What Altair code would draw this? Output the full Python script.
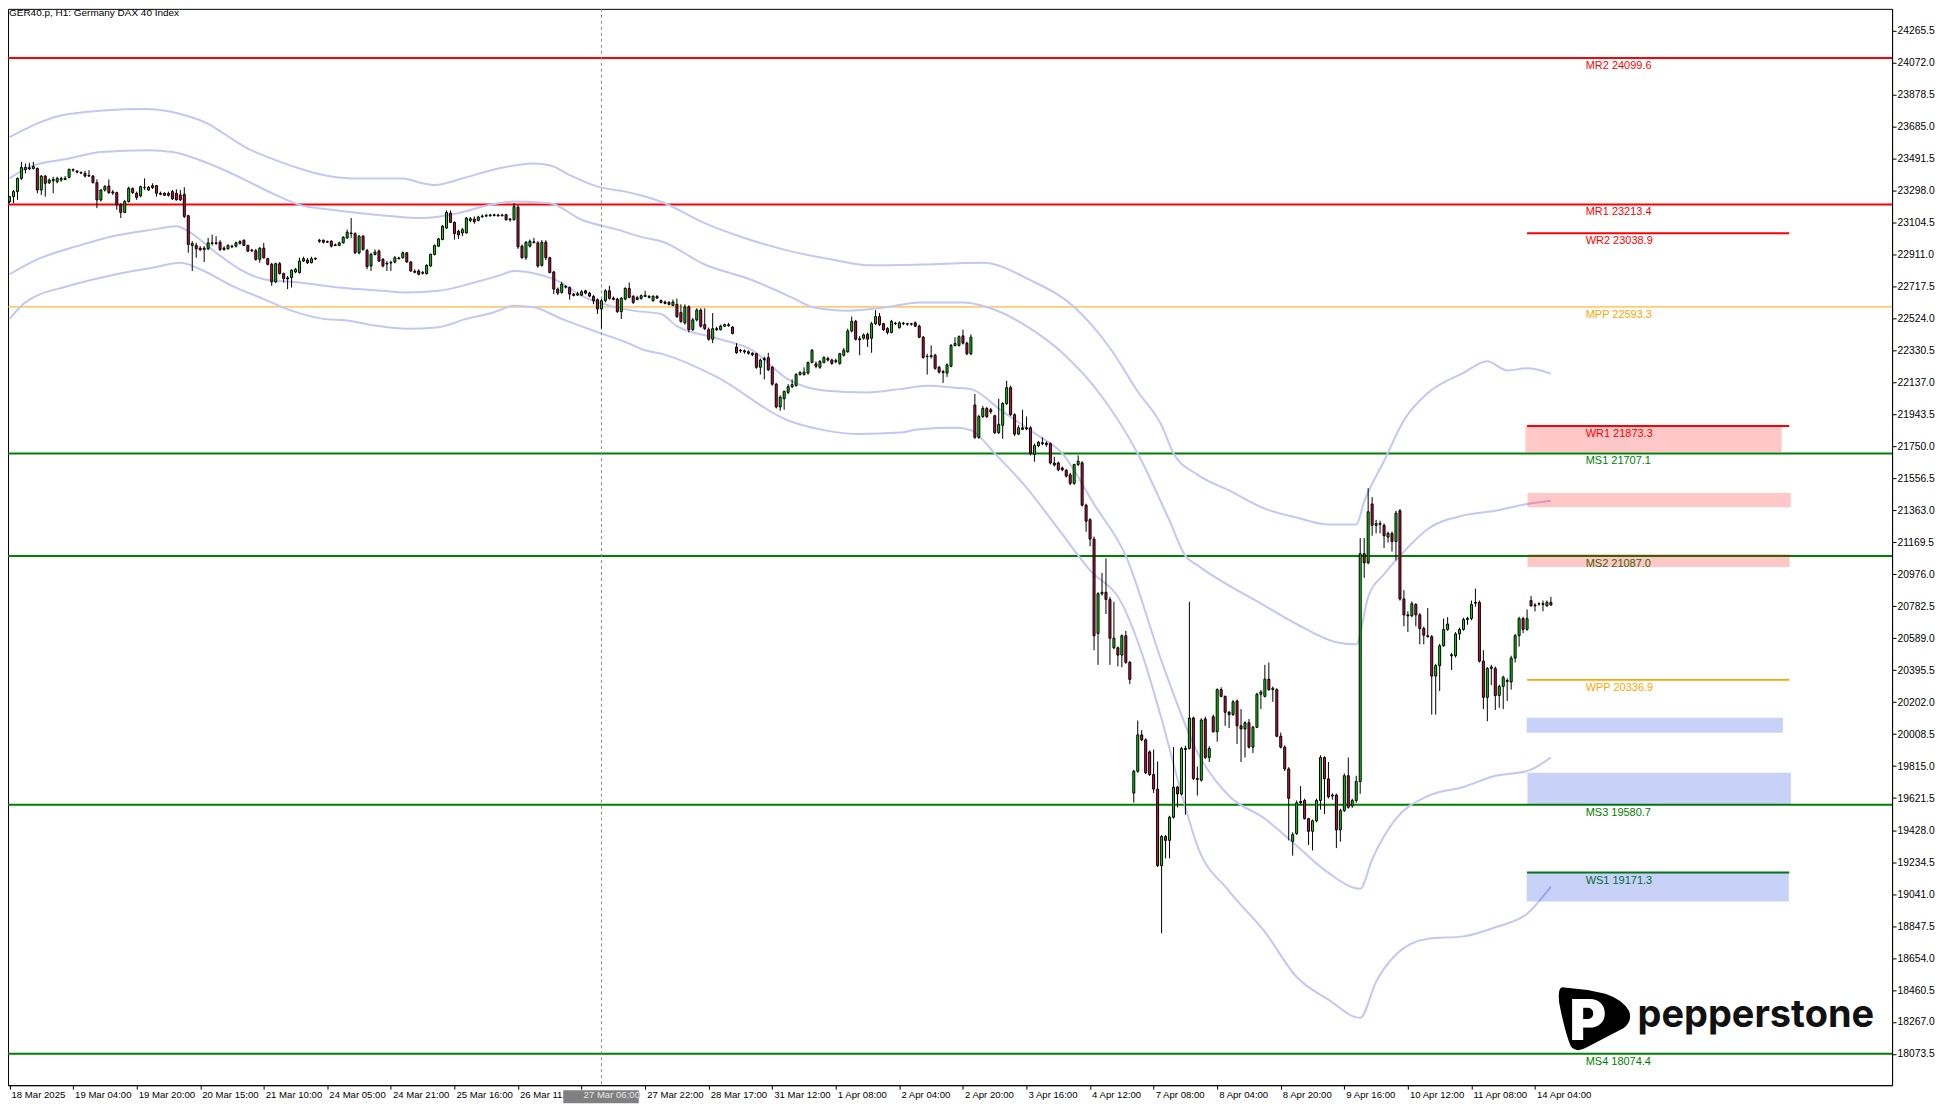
import altair as alt
import pandas as pd

TITLE = "GER40.p, H1:  Germany DAX 40 Index"

TIME_TICK_BARS = [0, 16, 32, 48, 64, 80, 96, 112, 128, 144, 160, 176, 192, 208, 224,
                  240, 256, 272, 288, 304, 320, 336, 352, 368, 384]
TIME_LABELS = ["18 Mar 2025", "19 Mar 04:00", "19 Mar 20:00", "20 Mar 15:00", "21 Mar 10:00",
               "24 Mar 05:00", "24 Mar 21:00", "25 Mar 16:00", "26 Mar 11:00", "27 Mar 06:00",
               "27 Mar 22:00", "28 Mar 17:00", "31 Mar 12:00", "1 Apr 08:00", "2 Apr 04:00",
               "2 Apr 20:00", "3 Apr 16:00", "4 Apr 12:00", "7 Apr 08:00", "8 Apr 04:00",
               "8 Apr 20:00", "9 Apr 16:00", "10 Apr 12:00", "11 Apr 08:00", "14 Apr 04:00"]

PRICE_TICKS = [18073.5, 18267.0, 18460.5, 18654.0, 18847.5, 19041.0, 19234.5, 19428.0,
               19621.5, 19815.0, 20008.5, 20202.0, 20395.5, 20589.0, 20782.5, 20976.0,
               21169.5, 21363.0, 21556.5, 21750.0, 21943.5, 22137.0, 22330.5, 22524.0,
               22717.5, 22911.0, 23104.5, 23298.0, 23491.5, 23685.0, 23878.5, 24072.0, 24265.5]

OPEN = [
    23231, 23261, 23291, 23371, 23425, 23429, 23431, 23431, 23301, 23385,
    23345, 23357, 23351, 23361, 23365, 23377, 23425, 23415, 23407, 23401,
    23389, 23385, 23345, 23241, 23301, 23325, 23289, 23285, 23211, 23165,
    23231, 23309, 23281, 23265, 23315, 23301, 23327, 23327, 23281, 23281,
    23279, 23291, 23281, 23271, 23275, 23145, 22965, 22965, 22949, 22941,
    22945, 22977, 22981, 22985, 22949, 22945, 22961, 22961, 22977, 22997,
    22965, 22937, 22933, 22881, 22949, 22885, 22851, 22745, 22855, 22795,
    22769, 22771, 22805, 22801, 22871, 22877, 22861, 22887, 22991, 22997,
    22989, 22991, 22969, 22965, 22981, 23011, 23037, 23037, 22921, 23021,
    22935, 22841, 22911, 22931, 22881, 22857, 22859, 22865, 22889, 22891,
    22921, 22865, 22809, 22811, 22801, 22795, 22841, 22911, 22961, 23001,
    23071, 23161, 23105, 23051, 23041, 23041, 23117, 23125, 23117, 23139,
    23143, 23145, 23147, 23149, 23145, 23151, 23121, 23121, 23197, 22961,
    22891, 22961, 22987, 22981, 22845, 22985, 22891, 22805, 22701, 22681,
    22717, 22711, 22671, 22665, 22665, 22691, 22677, 22657, 22637, 22581,
    22631, 22691, 22647, 22641, 22565, 22641, 22705, 22657, 22649, 22645,
    22657, 22657, 22631, 22657, 22632, 22623, 22620, 22603, 22609, 22560,
    22497, 22594, 22456, 22515, 22574, 22486, 22456, 22398, 22462, 22456,
    22477, 22486, 22471, 22351, 22331, 22328, 22322, 22313, 22310, 22228,
    22275, 22287, 22228, 22126, 21988, 22038, 22076, 22111, 22117, 22184,
    22184, 22193, 22257, 22249, 22228, 22257, 22281, 22272, 22263, 22252,
    22301, 22322, 22448, 22506, 22401, 22404, 22427, 22404, 22492, 22535,
    22492, 22462, 22439, 22492, 22468, 22495, 22492, 22489, 22497, 22477,
    22410, 22295, 22293, 22301, 22228, 22202, 22193, 22234, 22360, 22360,
    22418, 22374, 22310, 22000, 21804, 21930, 21979, 21971, 21935, 21833,
    21877, 22009, 22105, 21941, 21824, 21862, 21862, 21862, 21701, 21754,
    21772, 21769, 21766, 21649, 21649, 21619, 21605, 21578, 21526, 21640,
    21650, 21394, 21306, 21189, 20618, 20858, 20867, 20823, 20531, 20531,
    20487, 20604, 20443, 19652, 19784, 20004, 19974, 19901, 19764, 19676,
    19213, 19389, 19366, 19506, 19688, 19647, 19922, 19922, 20106, 19740,
    19730, 20100, 19867, 20114, 20023, 20278, 20237, 20141, 20127, 20209,
    20059, 20040, 20078, 19930, 20050, 20250, 20237, 20341, 20278, 20278,
    19996, 19930, 19798, 19360, 19407, 19593, 19607, 19497, 19421, 19484,
    19607, 19867, 19738, 19634, 19640, 19429, 19546, 19757, 19574, 19607,
    19722, 21100, 21045, 21401, 21272, 21278, 21272, 21201, 21223, 21174,
    21360, 20826, 20730, 20724, 20793, 20730, 20648, 20604, 20598, 20360,
    20423, 20543, 20642, 20489, 20483, 20615, 20642, 20702, 20708, 20801,
    20806, 20450, 20231, 20406, 20406, 20242, 20297, 20333, 20324, 20469,
    20604, 20708, 20642, 20817, 20790, 20796, 20798, 20785, 20806,
]
HIGH = [
    23265, 23301, 23377, 23471, 23461, 23465, 23471, 23437, 23391, 23391,
    23371, 23381, 23381, 23381, 23385, 23431, 23431, 23421, 23413, 23417,
    23421, 23391, 23365, 23305, 23331, 23365, 23301, 23291, 23221, 23241,
    23321, 23317, 23291, 23327, 23371, 23325, 23341, 23331, 23291, 23287,
    23291, 23301, 23305, 23301, 23317, 23151, 22991, 22981, 22961, 22961,
    23011, 23031, 23021, 22997, 22961, 22973, 22969, 22989, 22997, 23001,
    22971, 22945, 22945, 22955, 22981, 22891, 22861, 22861, 22865, 22801,
    22781, 22821, 22829, 22891, 22897, 22889, 22897, 22893, 23005, 23001,
    22995, 22997, 22977, 22989, 23021, 23061, 23131, 23045, 23029, 23029,
    22945, 22921, 22941, 22941, 22889, 22871, 22873, 22901, 22897, 22929,
    22925, 22871, 22821, 22821, 22811, 22851, 22917, 22971, 23011, 23089,
    23177, 23177, 23111, 23061, 23071, 23137, 23137, 23141, 23145, 23153,
    23157, 23157, 23157, 23157, 23157, 23157, 23131, 23221, 23211, 22971,
    22991, 23001, 23011, 22991, 22997, 22997, 22897, 22811, 22711, 22745,
    22725, 22717, 22677, 22685, 22695, 22697, 22685, 22665, 22645, 22641,
    22701, 22721, 22657, 22649, 22653, 22713, 22741, 22665, 22661, 22669,
    22691, 22665, 22665, 22665, 22638, 22632, 22629, 22638, 22644, 22609,
    22609, 22603, 22527, 22585, 22585, 22585, 22468, 22556, 22474, 22486,
    22492, 22497, 22477, 22374, 22339, 22336, 22331, 22319, 22316, 22281,
    22293, 22316, 22235, 22134, 22058, 22088, 22126, 22155, 22193, 22205,
    22228, 22263, 22339, 22263, 22272, 22295, 22293, 22281, 22281, 22316,
    22345, 22462, 22535, 22515, 22418, 22433, 22439, 22503, 22574, 22556,
    22497, 22471, 22515, 22503, 22506, 22503, 22497, 22497, 22506, 22486,
    22418, 22310, 22360, 22310, 22237, 22213, 22252, 22369, 22410, 22421,
    22456, 22383, 22427, 22067, 21941, 21994, 21988, 21982, 21941, 22038,
    22017, 22146, 22117, 21950, 21877, 21971, 21930, 21871, 21766, 21783,
    21804, 21780, 21774, 21687, 21657, 21628, 21613, 21590, 21645, 21695,
    21660, 21403, 21315, 21204, 20867, 20984, 21072, 20838, 20809, 20539,
    20612, 20633, 20451, 19793, 20091, 20033, 19983, 19910, 19916, 19843,
    19398, 19398, 19515, 19930, 19696, 19930, 19939, 20809, 20115, 19813,
    20105, 20114, 19935, 20127, 20286, 20292, 20242, 20149, 20215, 20218,
    20160, 20086, 20100, 20059, 20259, 20275, 20428, 20442, 20297, 20286,
    20018, 19941, 19809, 19415, 19607, 19694, 19618, 19503, 19492, 19618,
    19881, 19875, 19840, 19651, 19648, 19557, 19771, 19867, 19618, 19757,
    21195, 21195, 21497, 21442, 21305, 21300, 21283, 21234, 21234, 21360,
    21371, 20880, 20752, 20812, 20801, 20741, 20659, 20771, 20609, 20434,
    20555, 20708, 20716, 20500, 20626, 20653, 20713, 20719, 20817, 20889,
    20817, 20516, 20415, 20428, 20418, 20308, 20363, 20346, 20483, 20615,
    20719, 20719, 20763, 20845, 20801, 20806, 20817, 20817, 20839,
]
LOW = [
    23221, 23221, 23241, 23361, 23401, 23421, 23425, 23281, 23271, 23261,
    23337, 23281, 23341, 23351, 23361, 23371, 23411, 23401, 23397, 23377,
    23381, 23341, 23191, 23231, 23291, 23277, 23271, 23181, 23131, 23161,
    23225, 23277, 23241, 23257, 23301, 23295, 23307, 23261, 23269, 23265,
    23261, 23241, 23237, 23235, 23131, 22921, 22811, 22891, 22931, 22865,
    22937, 22965, 22969, 22931, 22933, 22941, 22949, 22953, 22971, 22961,
    22925, 22927, 22873, 22861, 22885, 22845, 22721, 22737, 22789, 22741,
    22701, 22711, 22797, 22795, 22865, 22853, 22857, 22877, 22981, 22977,
    22981, 22953, 22961, 22961, 22977, 23005, 23011, 22913, 22911, 22933,
    22821, 22811, 22905, 22865, 22833, 22811, 22811, 22857, 22881, 22885,
    22861, 22805, 22797, 22785, 22789, 22789, 22837, 22905, 22957, 22997,
    23065, 23101, 23001, 23005, 23021, 23037, 23105, 23097, 23111, 23133,
    23137, 23139, 23141, 23139, 23141, 23115, 23109, 23117, 22945, 22885,
    22877, 22953, 22977, 22831, 22837, 22877, 22797, 22671, 22665, 22673,
    22705, 22637, 22657, 22661, 22659, 22669, 22653, 22611, 22551, 22461,
    22621, 22637, 22633, 22557, 22521, 22633, 22645, 22611, 22633, 22637,
    22653, 22645, 22625, 22641, 22615, 22609, 22603, 22597, 22527, 22497,
    22486, 22439, 22448, 22506, 22468, 22454, 22389, 22374, 22448, 22451,
    22471, 22474, 22427, 22310, 22316, 22310, 22304, 22295, 22219, 22184,
    22155, 22205, 22117, 21979, 21965, 21971, 22067, 22102, 22111, 22178,
    22178, 22184, 22252, 22222, 22219, 22252, 22263, 22243, 22252, 22243,
    22293, 22316, 22439, 22389, 22301, 22395, 22351, 22316, 22483, 22477,
    22448, 22427, 22433, 22483, 22462, 22483, 22480, 22480, 22471, 22404,
    22281, 22184, 22281, 22213, 22190, 22134, 22170, 22228, 22354, 22354,
    22366, 22301, 22301, 21795, 21795, 21921, 21921, 21947, 21824, 21824,
    21795, 22000, 21935, 21812, 21818, 21848, 21848, 21695, 21657, 21745,
    21757, 21748, 21640, 21628, 21599, 21599, 21561, 21514, 21517, 21630,
    21385, 21233, 21145, 20516, 20428, 20847, 20735, 20428, 20522, 20419,
    20413, 20434, 20311, 19594, 19775, 19966, 19767, 19755, 19652, 19205,
    18804, 19257, 19257, 19497, 19565, 19638, 19521, 19916, 19731, 19637,
    19722, 19859, 19840, 20018, 19963, 20231, 20059, 20045, 20119, 19949,
    19840, 19867, 19922, 19894, 20045, 20160, 20231, 20270, 20204, 19990,
    19922, 19785, 19366, 19273, 19399, 19579, 19492, 19338, 19305, 19475,
    19552, 19525, 19620, 19612, 19319, 19358, 19538, 19558, 19563, 19593,
    19648, 20954, 21037, 21209, 21223, 21223, 21135, 21168, 21113, 21059,
    20817, 20661, 20626, 20716, 20661, 20552, 20552, 20593, 20127, 20127,
    20270, 20538, 20634, 20396, 20472, 20579, 20634, 20670, 20697, 20779,
    20442, 20160, 20086, 20305, 20155, 20168, 20160, 20209, 20278, 20442,
    20538, 20620, 20634, 20779, 20751, 20785, 20752, 20779, 20785,
]
CLOSE = [
    23261, 23291, 23371, 23437, 23437, 23435, 23443, 23301, 23385, 23341,
    23361, 23365, 23371, 23371, 23371, 23425, 23421, 23409, 23403, 23385,
    23385, 23345, 23241, 23301, 23321, 23285, 23283, 23211, 23165, 23231,
    23311, 23285, 23255, 23321, 23317, 23317, 23315, 23281, 23275, 23269,
    23269, 23247, 23241, 23241, 23141, 22971, 22977, 22945, 22939, 22949,
    22981, 22981, 22977, 22941, 22941, 22965, 22957, 22981, 22989, 22965,
    22931, 22933, 22881, 22949, 22891, 22851, 22745, 22855, 22795, 22765,
    22763, 22815, 22821, 22871, 22885, 22861, 22885, 22883, 22997, 22985,
    22985, 22961, 22965, 22981, 23015, 23045, 23041, 22921, 23021, 22941,
    22837, 22911, 22925, 22871, 22841, 22853, 22863, 22891, 22885, 22921,
    22865, 22811, 22803, 22791, 22797, 22845, 22911, 22965, 23005, 23081,
    23165, 23105, 23037, 23029, 23061, 23131, 23127, 23109, 23137, 23143,
    23147, 23149, 23151, 23145, 23149, 23121, 23125, 23201, 22957, 22891,
    22985, 22991, 22983, 22841, 22985, 22891, 22801, 22701, 22677, 22731,
    22713, 22671, 22663, 22673, 22685, 22677, 22659, 22631, 22581, 22631,
    22691, 22645, 22639, 22565, 22645, 22705, 22651, 22621, 22639, 22661,
    22663, 22651, 22657, 22647, 22620, 22615, 22609, 22623, 22535, 22506,
    22594, 22456, 22515, 22574, 22477, 22462, 22398, 22462, 22456, 22477,
    22486, 22480, 22433, 22316, 22328, 22322, 22313, 22304, 22228, 22272,
    22281, 22213, 22126, 21988, 22047, 22082, 22111, 22123, 22184, 22196,
    22199, 22257, 22331, 22234, 22263, 22287, 22272, 22252, 22269, 22310,
    22331, 22448, 22506, 22398, 22395, 22424, 22398, 22492, 22535, 22486,
    22456, 22439, 22506, 22495, 22497, 22492, 22489, 22492, 22477, 22410,
    22287, 22293, 22298, 22222, 22199, 22196, 22243, 22360, 22372, 22413,
    22374, 22310, 22410, 21804, 21930, 21979, 21930, 21959, 21833, 21883,
    22009, 22105, 21941, 21824, 21862, 21853, 21856, 21707, 21754, 21774,
    21766, 21760, 21649, 21637, 21608, 21608, 21570, 21526, 21640, 21660,
    21394, 21297, 21189, 20604, 20858, 20867, 20823, 20589, 20589, 20487,
    20604, 20443, 20340, 19784, 20004, 19974, 19775, 19764, 19676, 19213,
    19389, 19366, 19506, 19688, 19647, 19922, 19916, 20106, 19740, 19735,
    20094, 19867, 19922, 20023, 20278, 20237, 20141, 20127, 20204, 20059,
    20040, 20078, 19930, 20050, 20250, 20264, 20341, 20278, 20286, 19996,
    19930, 19798, 19620, 19401, 19593, 19601, 19497, 19421, 19484, 19607,
    19867, 19738, 19629, 19640, 19429, 19546, 19757, 19566, 19607, 19722,
    21100, 21045, 21354, 21272, 21283, 21283, 21209, 21223, 21174, 21346,
    20826, 20730, 20724, 20798, 20730, 20648, 20607, 20598, 20360, 20423,
    20543, 20642, 20675, 20483, 20615, 20642, 20702, 20708, 20793, 20806,
    20450, 20231, 20406, 20415, 20242, 20297, 20352, 20327, 20469, 20604,
    20708, 20642, 20708, 20785, 20785, 20798, 20793, 20806, 20790,
]

# envelope / band lines at sample bars
BAND_A_BARS = [0, 15, 34, 43, 50, 54, 60, 66, 73, 79, 86, 99, 104, 107, 114, 123, 132, 136, 141,
               148, 155, 160, 164, 175, 185, 195, 207, 217, 230, 245, 257, 268, 277, 284, 290,
               293, 299, 307, 316, 324, 332, 339, 341, 346, 351, 357, 366, 372, 377, 382, 388]
BAND_A_VALS = [23621, 23761, 23791, 23761, 23701, 23641, 23551, 23491, 23431, 23391, 23371,
               23371, 23341, 23331, 23371, 23431, 23461, 23451, 23391, 23321, 23291, 23261,
               23230, 23100, 23010, 22940, 22880, 22845, 22850, 22860, 22755, 22593, 22345,
               22082, 21877, 21707, 21579, 21483, 21373, 21319, 21277, 21277, 21415, 21661,
               21908, 22072, 22195, 22264, 22209, 22222, 22190]
BAND_B_BARS = [0, 5, 15, 23, 35, 41, 48, 55, 61, 67, 73, 81, 92, 104, 113, 121, 127, 136, 144,
               153, 160, 164, 175, 187, 198, 202, 211, 221, 229, 240, 246, 257, 265, 275, 284,
               292, 296, 299, 316, 324, 334, 339, 342, 346, 351, 357, 366, 374, 382, 388]
BAND_B_VALS = [23371, 23441, 23491, 23531, 23541, 23531, 23481, 23411, 23341, 23271, 23211,
               23181, 23151, 23131, 23161, 23211, 23231, 23221, 23121, 23061, 23011, 22991,
               22850, 22755, 22638, 22593, 22570, 22593, 22620, 22620, 22593, 22462, 22316,
               22050, 21707, 21300, 21087, 21031, 20785, 20675, 20565, 20552, 20839, 20976,
               21113, 21250, 21332, 21360, 21401, 21420]
BAND_C_BARS = [0, 7, 17, 26, 36, 42, 45, 52, 58, 64, 73, 83, 94, 100, 108, 117, 123, 127, 133,
               138, 144, 151, 157, 164, 168, 178, 187, 196, 205, 216, 224, 231, 238, 242, 250,
               258, 265, 273, 281, 290, 299, 307, 316, 324, 332, 340, 343, 349, 357, 366, 374,
               382, 388]
BAND_C_VALS = [22791, 22881, 22961, 23021, 23061, 23081, 23051, 22921, 22821, 22761, 22741,
               22711, 22691, 22681, 22691, 22741, 22781, 22811, 22791, 22751, 22661, 22601,
               22571, 22551, 22477, 22404, 22331, 22155, 22088, 22076, 22096, 22117, 22105,
               22096, 21960, 21830, 21707, 21400, 21087, 20450, 19900, 19634, 19497, 19333,
               19169, 19073, 19251, 19497, 19634, 19689, 19757, 19785, 19867]
BAND_D_BARS = [0, 4, 15, 25, 36, 43, 48, 56, 64, 71, 79, 85, 92, 100, 108, 115, 122, 127, 132,
               139, 148, 155, 160, 164, 178, 196, 205, 214, 224, 229, 238, 242, 248, 256, 264,
               272, 280, 285, 290, 295, 299, 307, 316, 324, 332, 340, 344, 349, 357, 366, 374,
               382, 388]
BAND_D_VALS = [22521, 22621, 22721, 22781, 22831, 22861, 22821, 22721, 22641, 22571, 22521,
               22511, 22481, 22461, 22471, 22521, 22561, 22601, 22591, 22521, 22441, 22381,
               22331, 22311, 22170, 21906, 21848, 21824, 21833, 21853, 21862, 21848, 21707,
               21500, 21250, 21000, 20800, 20500, 20100, 19650, 19333, 19059, 18812, 18539,
               18402, 18292, 18511, 18675, 18771, 18785, 18840, 18922, 19086]

# pivot levels
MONTHLY_NAMES = ["MR2", "MR1", "MPP", "MS1", "MS2", "MS3", "MS4"]
MONTHLY_VALUES = [24099.6, 23213.4, 22593.3, 21707.1, 21087.0, 19580.7, 18074.4]
WEEKLY_NAMES = ["WR2", "WR1", "WPP", "WS1"]
WEEKLY_VALUES = [23038.9, 21873.3, 20336.9, 19171.3]
WEEKLY_FROM_BAR = 382
WEEKLY_TO_BAR = 448
LABEL_BAR = 396

ZONE_KIND = ["supply", "supply", "supply", "demand", "demand", "demand"]
ZONE_FROM = [381.6, 382.1, 382.1, 381.9, 382.1, 381.9]
ZONE_TO = [446.1, 448.4, 448.1, 446.4, 448.4, 447.9]
ZONE_TOP = [21873, 21467, 21098, 20108, 19775, 19171]
ZONE_BOTTOM = [21714, 21382, 21020, 20017, 19582, 18996]

CROSSHAIR_BAR = 149
CROSSHAIR_LABEL = "27 Mar 06:00"
CROSSHAIR_FROM = 139.4
CROSSHAIR_TO = 158.4

RED, GREEN, ORANGE = "#ff0000", "#008000", "#ffa500"
BULL, BEAR = "#00dd00", "#d01040"
BAND_COLOR = "#c3c7f4"
FONT = "Liberation Sans"


def level_color(name):
    if "PP" in name:
        return ORANGE
    return RED if "R" in name[1:] else GREEN


X_SCALE = alt.Scale(domain=[0.875, 472.625], nice=False, zero=False)
Y_SCALE = alt.Scale(domain=[17884.7, 24396.8], nice=False, zero=False)
label_array = "[" + ",".join("'" + s + "'" for s in TIME_LABELS) + "]"
X_AXIS = alt.Axis(values=TIME_TICK_BARS, labelExpr=label_array + "[round(datum.value/16)]",
                  orient="bottom", tickSize=4, labelAlign="left", labelBaseline="top",
                  labelPadding=0, labelOffset=1.5, labelFlush=False, labelOverlap=False,
                  labelBound=False, zindex=0, title=None, labelFontSize=9.6)
Y_AXIS = alt.Axis(values=PRICE_TICKS, format=".1f", orient="right", tickSize=4,
                  labelAlign="left", labelBaseline="middle", labelPadding=1,
                  labelOverlap=False, labelFlush=False, title=None, labelFontSize=10.3)


def xenc(field):
    return alt.X(field, type="quantitative", scale=X_SCALE, axis=X_AXIS, title=None)


def yenc(field):
    return alt.Y(field, type="quantitative", scale=Y_SCALE, axis=Y_AXIS, title=None)


candles = pd.DataFrame({"bar": list(range(len(OPEN))), "open": OPEN, "high": HIGH,
                        "low": LOW, "close": CLOSE})

monthly = pd.DataFrame({"name": MONTHLY_NAMES, "price": MONTHLY_VALUES})
monthly["col"] = [level_color(n) for n in MONTHLY_NAMES]
monthly_thick = monthly[monthly["name"] != "MPP"]
monthly_thin = monthly[monthly["name"] == "MPP"]

weekly = pd.DataFrame({"name": WEEKLY_NAMES, "price": WEEKLY_VALUES,
                       "x0": WEEKLY_FROM_BAR, "x1": WEEKLY_TO_BAR})
weekly["col"] = [level_color(n) for n in WEEKLY_NAMES]

labels = pd.DataFrame({"name": MONTHLY_NAMES + WEEKLY_NAMES,
                       "price": MONTHLY_VALUES + WEEKLY_VALUES})
labels["text"] = [f"{n} {v:.1f}" for n, v in zip(labels["name"], labels["price"])]
labels["col"] = [level_color(n) for n in labels["name"]]
labels["bar"] = LABEL_BAR

zones = pd.DataFrame({"kind": ZONE_KIND, "x0": ZONE_FROM, "x1": ZONE_TO,
                      "top": ZONE_TOP, "bot": ZONE_BOTTOM})
zones["col"] = ["#ff0000" if k == "supply" else "#0028e0" for k in ZONE_KIND]

band_rows = []
for name, bars, vals in [("A", BAND_A_BARS, BAND_A_VALS), ("B", BAND_B_BARS, BAND_B_VALS),
                         ("C", BAND_C_BARS, BAND_C_VALS), ("D", BAND_D_BARS, BAND_D_VALS)]:
    for b, v in zip(bars, vals):
        band_rows.append({"band": name, "bar": b, "price": v})
bands = pd.DataFrame(band_rows)

layers = []

layers.append(alt.Chart(monthly_thick).mark_rule(strokeWidth=2).encode(
    y=yenc("price"), color=alt.Color("col:N", scale=None)))
layers.append(alt.Chart(monthly_thin).mark_rule(strokeWidth=1).encode(
    y=yenc("price"), color=alt.Color("col:N", scale=None)))

layers.append(alt.Chart(bands).mark_line(strokeWidth=2, color=BAND_COLOR, interpolate="monotone",
                                         clip=True).encode(
    x=xenc("bar"), y=yenc("price"), detail="band:N", order="bar:Q"))

layers.append(alt.Chart(pd.DataFrame({"bar": [CROSSHAIR_BAR]})).mark_rule(
    color="#8a8a8a", strokeWidth=1, strokeDash=[3, 3]).encode(x=xenc("bar")))

layers.append(alt.Chart(weekly).mark_rule(strokeWidth=2).encode(
    x=xenc("x0"), x2="x1", y=yenc("price"), color=alt.Color("col:N", scale=None)))

layers.append(alt.Chart(labels).mark_text(align="left", baseline="alphabetic", dy=11, dx=3,
                                          font=FONT, fontSize=11).encode(
    x=xenc("bar"), y=yenc("price"), text="text:N", color=alt.Color("col:N", scale=None)))

layers.append(alt.Chart(zones).mark_rect(opacity=0.215).encode(
    x=xenc("x0"), x2="x1", y=yenc("top"), y2="bot", color=alt.Color("col:N", scale=None)))

layers.append(alt.Chart(candles).mark_rule(color="black", strokeWidth=1, clip=True).encode(
    x=xenc("bar"), y=yenc("low"), y2="high"))

layers.append(alt.Chart(candles).mark_bar(size=2, stroke="black", strokeWidth=1, clip=True).encode(
    x=xenc("bar"), y=yenc("open"), y2="close",
    color=alt.condition("datum.close >= datum.open", alt.value(BULL), alt.value(BEAR))))

# crosshair time label under the axis
layers.append(alt.Chart(pd.DataFrame({"x0": [CROSSHAIR_FROM], "x1": [CROSSHAIR_TO]})).mark_rect(
    color="#808080").encode(x=xenc("x0"), x2="x1", y=alt.value(1083), y2=alt.value(1096)))
layers.append(alt.Chart(pd.DataFrame({"bar": [144], "t": [CROSSHAIR_LABEL]})).mark_text(
    align="left", baseline="top", dx=2, font=FONT, fontSize=9.6, color="#e8e8e8").encode(
    x=xenc("bar"), y=alt.value(1083), text="t:N"))

# title
layers.append(alt.Chart(pd.DataFrame({"t": [TITLE]})).mark_text(
    align="left", baseline="alphabetic", font=FONT, fontSize=10, color="black").encode(
    x=alt.value(1), y=alt.value(7), text="t:N"))

# pepperstone logo
SHIELD = ("M -0.9 -0.86 Q -0.3 -0.82 0.3 -0.68 Q 0.78 -0.52 0.96 -0.2 Q 1.06 0.08 0.8 0.28 "
          "L -0.2 0.8 Q -0.5 0.98 -0.66 0.78 Q -0.82 0.4 -0.98 -0.42 Q -1.03 -0.84 -0.9 -0.86 Z")
layers.append(alt.Chart(pd.DataFrame({"k": [1]})).mark_point(
    shape=SHIELD, filled=True, color="black", size=5200, opacity=1).encode(
    x=alt.value(1589), y=alt.value(1011)))
layers.append(alt.Chart(pd.DataFrame({"t": ["P"]})).mark_text(
    align="left", baseline="alphabetic", font="Inter", fontSize=56, fontWeight=900,
    color="white").encode(x=alt.value(1564), y=alt.value(1033), text="t:N"))
layers.append(alt.Chart(pd.DataFrame({"t": ["pepperstone"]})).mark_text(
    align="left", baseline="alphabetic", font="Inter", fontSize=38, fontWeight=700,
    color="#111111").encode(x=alt.value(1632), y=alt.value(1020), text="t:N"))

chart = alt.layer(*layers).properties(
    width=1887, height=1078,
    autosize=alt.AutoSizeParams(type="none"),
    padding={"left": 0, "top": 0, "right": 50, "bottom": 18},
    background="white",
).configure_view(stroke="black", strokeWidth=1).configure_axis(
    grid=False, domainColor="black", tickColor="black", labelColor="black",
    labelFont=FONT, domainWidth=1, tickWidth=1)

chart.save("out.html", embed_options={"renderer": "svg", "actions": False})
